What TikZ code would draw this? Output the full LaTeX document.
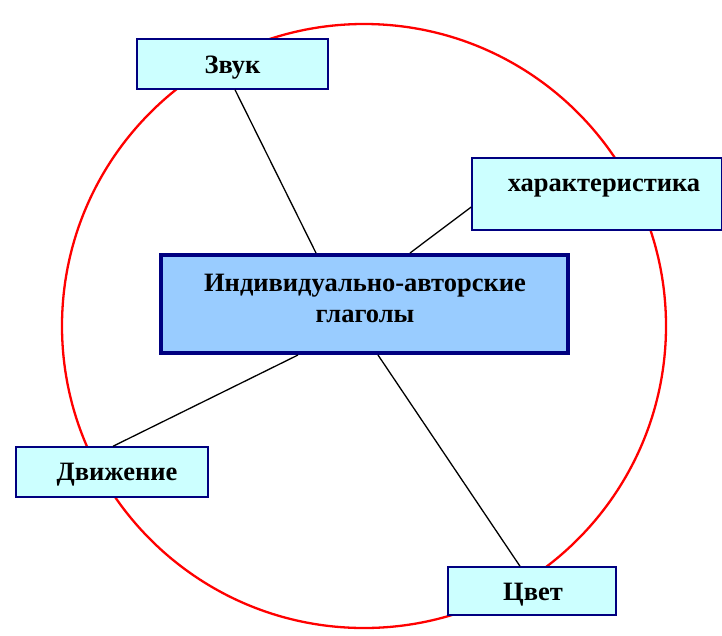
\documentclass[tikz,border=0pt]{standalone}
\usepackage{fontspec}
\setmainfont{Liberation Serif}
\definecolor{boxfill}{HTML}{CCFFFF}
\definecolor{mainfill}{HTML}{99CCFF}
\definecolor{navy}{HTML}{000080}
\begin{document}
\begin{tikzpicture}[x=1pt,y=-1pt,
  leaf/.style={draw=navy,line width=1.5pt,fill=boxfill,inner sep=0pt},
  hub/.style={draw=navy,line width=4pt,fill=mainfill,inner sep=0pt},
  txt/.style={inner sep=0pt,align=center,font=\fontsize{26.5}{31}\selectfont\bfseries},
  link/.style={black,line width=1.3pt}]
\useasboundingbox (0,0) rectangle (722,635);
\draw[red,line width=2.3pt] (364,326) circle[radius=302];
\node[hub,minimum width=407,minimum height=98] (c) at (364.5,304) {};
\node[txt] (ct) at (365,298) {Индивидуально-авторские\\глаголы};
\node[leaf,minimum width=191,minimum height=50] (zv) at (232.5,64) {};
\node[txt] (zvt) at (232.5,68) {Звук};
\node[leaf,minimum width=250,minimum height=72] (har) at (597,194) {};
\node[txt] (hart) at (604,188) {характеристика};
\node[leaf,minimum width=192,minimum height=50] (dv) at (112,472) {};
\node[txt] (dvt) at (117,475) {Движение};
\node[leaf,minimum width=168,minimum height=48] (cv) at (532,591) {};
\node[txt] (cvt) at (533,595) {Цвет};
\coordinate (a1) at (zv.south -| 235,0);
\coordinate (b1) at (c.north -| 316,0);
\draw[link] (a1) -- (b1);
\coordinate (a2) at (har.west |- 0,207);
\coordinate (b2) at (c.north -| 410,0);
\draw[link] (a2) -- (b2);
\coordinate (a3) at (dv.north -| 113,0);
\coordinate (b3) at (c.south -| 298,0);
\draw[link] (a3) -- (b3);
\coordinate (a4) at (cv.north -| 520,0);
\coordinate (b4) at (c.south -| 378,0);
\draw[link] (a4) -- (b4);
\end{tikzpicture}
\end{document}
